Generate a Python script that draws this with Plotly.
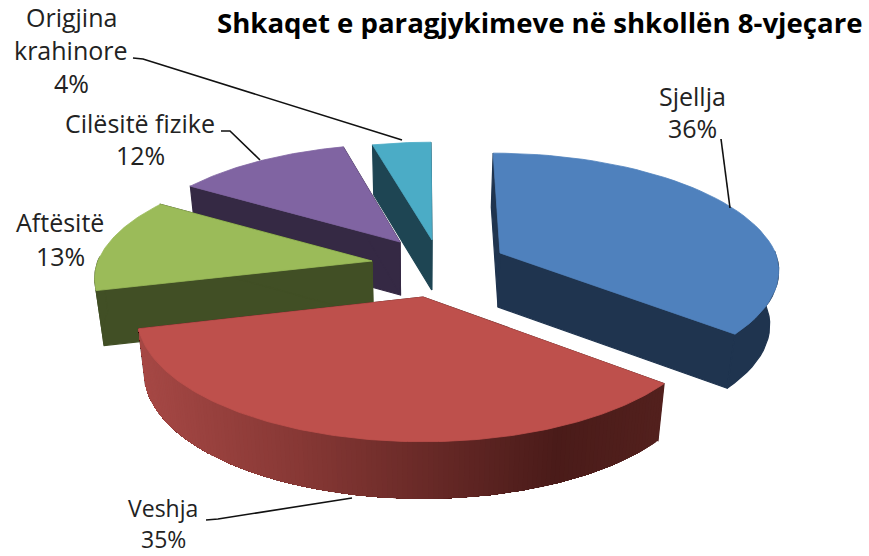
import math
import plotly.graph_objects as go

# --- data ---
labels = ["Sjellja", "Veshja", "Aftësitë", "Cilësitë fizike", "Origjina krahinore"]
label_lines = [["Sjellja"], ["Veshja"], ["Aftësitë"], ["Cilësitë fizike"], ["Origjina", "krahinore"]]
values = [36, 35, 13, 12, 4]
title = "Shkaqet e paragjykimeve në shkollën 8-vjeçare"

# --- styling / layout ---
W, H = 869, 556
top_colors = ["#4F81BD", "#BE504C", "#9BBB59", "#8064A2", "#4BACC6"]
side_colors = ["#1F344F", "#4F1F1D", "#414F25", "#352944", "#1E4553"]
apexes = [(500, 253), (423, 297), (372, 261), (400, 242), (432, 240)]
scales = [0.97, 0.995, 0.965, 0.95, 0.95]
y_scales = [1.0, 1.04, 1.0, 1.0, 1.0]
depths = [54, 57, 55, 53, 50]
draw_order = [4, 3, 2, 0, 1]
RX, RY, PERSP, VX, SHRINK, BACK = 284, 118.6, 0.152, 420, 0.975, 0.65
label_x = [692, 163, 60, 140, 71]
label_y = [[96, 128], [508, 539], [222, 256], [123, 155], [17, 50, 83]]
label_size = [25, 23, 25, 25, 25]
leaders = [
    [(721, 139), (730, 208)],
    [(206, 520), (218, 519), (352, 498)],
    [],
    [(221, 131), (230, 131), (260, 160)],
    [(133, 58), (143, 59), (402, 140)],
]
gradient_stops = [(139, (166, 72, 69)), (300, (135, 56, 53)), (560, (74, 27, 25)), (662, (82, 32, 29))]


def top_point(theta, i):
    u, v = math.sin(theta), -math.cos(theta)
    s = 1 / (1 - PERSP * v)
    back_shift = BACK * (apexes[i][0] - VX) * (s - 1) if v < 0 else 0
    return (apexes[i][0] + RX * u * s * scales[i] + back_shift,
            apexes[i][1] + RY * v * s * scales[i] * y_scales[i])


def lower(p, i):
    return VX + (p[0] - VX) * SHRINK, p[1] + depths[i]


def grad(x):
    for (x0, c0), (x1, c1) in zip(gradient_stops, gradient_stops[1:]):
        if x <= x1:
            t = max(0, (x - x0) / (x1 - x0))
            return "rgb(%d,%d,%d)" % tuple(round(a + (b - a) * t) for a, b in zip(c0, c1))
    return "rgb(%d,%d,%d)" % gradient_stops[-1][1]


fig = go.Figure()


def poly(points, color, lw=0.0):
    xs = [p[0] for p in points] + [points[0][0]]
    ys = [p[1] for p in points] + [points[0][1]]
    fig.add_trace(go.Scatter(x=xs, y=ys, mode="lines", fill="toself", fillcolor=color,
                             line=dict(color=color, width=lw), hoverinfo="skip", showlegend=False))


total = sum(values)
starts, acc = [], 0
for v in values:
    starts.append(acc / total * 2 * math.pi)
    acc += v

for i in draw_order:
    a0 = starts[i]
    a1 = a0 + values[i] / total * 2 * math.pi
    n = 140 if i == 1 else 48
    thetas = [a0 + (a1 - a0) * k / n for k in range(n + 1)]
    arc = [top_point(t, i) for t in thetas]
    # only the part of the rim that faces the viewer
    front = [top_point(t, i) for t in thetas if -math.cos(t) >= -0.05]
    apex = apexes[i]
    # cut faces
    poly([apex, arc[0], lower(arc[0], i), lower(apex, i)], side_colors[i], 1.2)
    poly([apex, arc[-1], lower(arc[-1], i), lower(apex, i)], side_colors[i], 1.2)
    # outer rim (gradient slice: overlapping bands painted from right to left)
    if i == 1:
        for k in range(n):
            band = arc[k:]
            poly(band + [lower(p, i) for p in reversed(band)], grad(arc[k][0]))
    elif len(front) > 1:
        poly(front + [lower(p, i) for p in reversed(front)], side_colors[i], 1.2)
    # top face
    poly([apex] + arc, top_colors[i], 0.8)

for seg in leaders:
    if seg:
        fig.add_trace(go.Scatter(x=[p[0] for p in seg], y=[p[1] for p in seg], mode="lines",
                                 line=dict(color="#111111", width=1.6), hoverinfo="skip", showlegend=False))

for lines, val, x, ys, size in zip(label_lines, values, label_x, label_y, label_size):
    for text, y in zip(lines + [f"{val}%"], ys):
        fig.add_annotation(x=x, y=y, text=text, showarrow=False, xref="x", yref="y",
                           xanchor="center", yanchor="middle",
                           font=dict(family="Open Sans", size=size, color="#222222"))

fig.add_annotation(x=540, y=22, text=f"<b>{title}</b>", showarrow=False, xref="x", yref="y",
                   font=dict(family="Open Sans", size=27.6, color="#000000"))

fig.update_layout(width=W, height=H, margin=dict(l=0, r=0, t=0, b=0), autosize=False,
                  paper_bgcolor="white", plot_bgcolor="white",
                  xaxis=dict(range=[0, W], visible=False, fixedrange=True),
                  yaxis=dict(range=[H, 0], visible=False, fixedrange=True))
fig.write_html("out.html", config={"displayModeBar": False},
               post_script="document.body.style.margin='0';document.body.style.overflow='hidden';")
